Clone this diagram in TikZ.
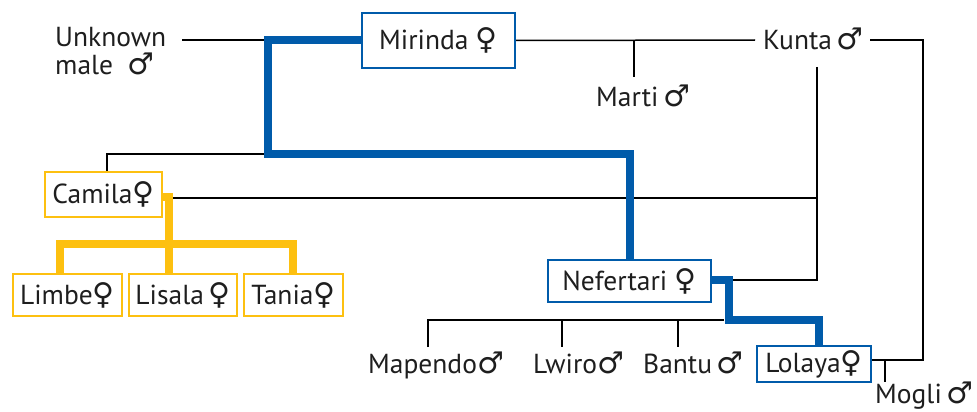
\documentclass[tikz,border=0pt]{standalone}
\usepackage{fontspec}
\setmainfont{PT Sans}
\newfontfamily\symfont{DejaVu Sans}
\newcommand{\fem}{{\symfont\fontsize{30}{30}\selectfont ♀}}
\newcommand{\mal}{{\symfont\fontsize{30}{30}\selectfont ♂}}
\definecolor{lineblue}{HTML}{005BAA}
\definecolor{lineyellow}{HTML}{FDC010}
\definecolor{inkgray}{HTML}{1E1E1E}
\begin{document}
\begin{tikzpicture}[x=1pt,y=-1pt,
  every node/.style={text=inkgray, font=\fontsize{27.5}{28}\selectfont, inner sep=0pt},
  bluebox/.style={draw=lineblue, line width=2pt, fill=white, minimum width=#1, minimum height=42pt},
  yellowbox/.style={draw=lineyellow, line width=2pt, fill=white, minimum width=#1, minimum height=42pt},
  label/.style={anchor=base west},
  thin/.style={draw=black, line width=1.5pt},
  blueline/.style={draw=lineblue, line width=8pt, line join=miter},
  yellowline/.style={draw=lineyellow, line width=8pt, line join=miter}]
\useasboundingbox (0,0) rectangle (977,412);

% individuals
\node[bluebox=153pt, minimum height=55pt] (mirinda) at (438.5,40.5) {Mirinda \fem};
\node[yellowbox=117pt, minimum height=45pt] (camila) at (103.5,194.5) {Camila\fem};
\node[yellowbox=109pt] (limbe) at (67.5,295) {Limbe\fem};
\node[yellowbox=108pt] (lisala) at (183,295) {Lisala\,\fem};
\node[yellowbox=99pt] (tania) at (293.5,295) {Tania\fem};
\node[bluebox=163pt] (nefertari) at (629.5,281) {Nefertari \fem};
\node[bluebox=114pt, minimum height=36pt] (lolaya) at (814,364) {Lolaya\fem};

\node[anchor=north west, align=left] (unknown) at (55,27) {Unknown\\male \ \mal};
\node[label] (kunta) at (763,50) {Kunta\,\mal};
\node[label] (marti) at (596,106) {Marti\,\mal};
\node[label] (mapendo) at (368,373) {Mapendo\mal};
\node[label] (lwiro) at (533,373) {Lwiro\mal};
\node[label] (bantu) at (643,373) {Bantu\,\mal};
\node[label] (mogli) at (875,403) {Mogli\,\mal};

% junction points
\coordinate (ukend) at (182,40);
\coordinate (bl1) at (268,40);
\coordinate (bl2) at (268,154);
\coordinate (bl3) at (630,154);
\coordinate (cmtop) at (107,154);
\coordinate (mtend) at (755,40);
\coordinate (mtj) at (634,40);
\coordinate (mtlow) at (634,77);
\coordinate (cmr) at (173,198);
\coordinate (kuR) at (817,198);
\coordinate (kuTop) at (817,67);
\coordinate (kuBot) at (817,280);
\coordinate (nfj) at (729,280);
\coordinate (mate1) at (923,360);
\coordinate (mate2) at (923,40);
\coordinate (kuRight) at (870,40);
\coordinate (mgj) at (885,360);
\coordinate (mglow) at (885,382);
\coordinate (ch1) at (428,320);
\coordinate (ch1low) at (428,347);
\coordinate (ch2) at (562,320);
\coordinate (ch2low) at (562,347);
\coordinate (ch3) at (678,320);
\coordinate (ch3low) at (678,347);
\coordinate (ch4) at (724,320);
\coordinate (nb1) at (729,320);
\coordinate (nb2) at (819,320);
\coordinate (yl0) at (169,197);
\coordinate (yl1) at (169,244);
\coordinate (yl2) at (60,244);
\coordinate (yl3) at (293,244);

% plain family lines
\draw[thin] (ukend) -- (bl1);
\draw[thin] (bl2) -- (cmtop) -- (camila.north -| cmtop);
\draw[thin] (mirinda.east) -- (mtend);
\draw[thin] (mtj) -- (mtlow);
\draw[thin] (cmr) -- (kuR);
\draw[thin] (kuTop) -- (kuBot) -- (nfj);
\draw[thin] (lolaya.east |- mate1) -- (mate1) -- (mate2) -- (kuRight);
\draw[thin] (mgj) -- (mglow);
\draw[thin] (ch1low) -- (ch1) -- (ch4);
\draw[thin] (ch2) -- (ch2low);
\draw[thin] (ch3) -- (ch3low);

% highlighted lineages
\draw[blueline] (mirinda.west |- bl1) -- (bl1) -- (bl2) -- (bl3) -- (nefertari.north -| bl3);
\draw[blueline] (nefertari.east |- nfj) -- (nfj) -- (nb1) -- (nb2) -- (lolaya.north -| nb2);
\draw[yellowline] (camila.east |- yl0) -- (yl0) -- (yl1) -- (lisala.north -| yl1);
\draw[yellowline] (limbe.north -| yl2) -- (yl2) -- (yl3) -- (tania.north -| yl3);

% boxes drawn again above the lines
\node[bluebox=153pt, minimum height=55pt] at (mirinda) {Mirinda \fem};
\node[yellowbox=117pt, minimum height=45pt] at (camila) {Camila\fem};
\node[yellowbox=109pt] at (limbe) {Limbe\fem};
\node[yellowbox=108pt] at (lisala) {Lisala\,\fem};
\node[yellowbox=99pt] at (tania) {Tania\fem};
\node[bluebox=163pt] at (nefertari) {Nefertari \fem};
\node[bluebox=114pt, minimum height=36pt] at (lolaya) {Lolaya\fem};
\end{tikzpicture}
\end{document}
